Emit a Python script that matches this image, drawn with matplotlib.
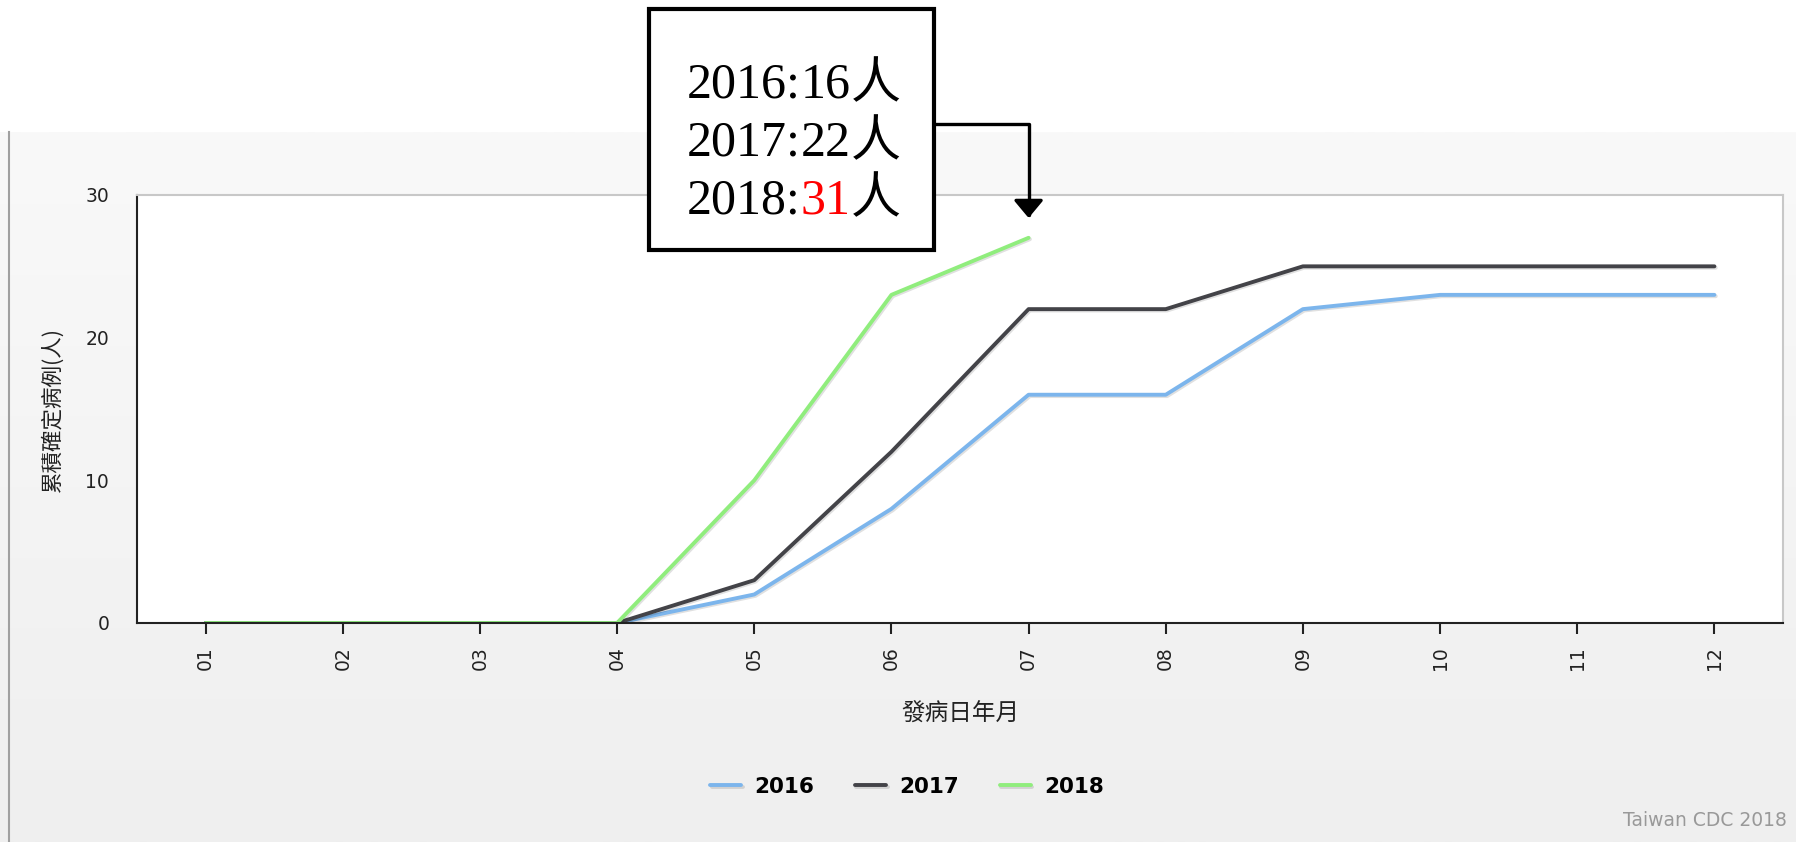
import numpy as np
import matplotlib
matplotlib.use("Agg")
import matplotlib.pyplot as plt
import matplotlib.patheffects as pe
from matplotlib.patches import Rectangle
from matplotlib.lines import Line2D
from matplotlib.colors import LinearSegmentedColormap

# data
months = ['01', '02', '03', '04', '05', '06', '07', '08', '09', '10', '11', '12']
cases_2016 = [0, 0, 0, 0, 2, 8, 16, 16, 22, 23, 23, 23]
cases_2017 = [0, 0, 0, 0, 3, 12, 22, 22, 25, 25, 25, 25]
cases_2018 = [0, 0, 0, 0, 10, 23, 27]
note_years = ['2016', '2017', '2018']
note_counts = ['16', '22', '31']

W, H = 1796, 842
CJK = ['Noto Sans CJK TC', 'DejaVu Sans']
SERIF = ['Liberation Serif', 'Noto Sans CJK TC']

fig = plt.figure(figsize=(W / 100, H / 100), dpi=100)
fig.patch.set_facecolor('white')

# grey chart panel with a soft gradient
bg = fig.add_axes([0, 0, 1, 1 - 132 / H])
grad = np.linspace(0, 1, 256).reshape(-1, 1)
bg.imshow(grad, aspect='auto', extent=[0, 1, 0, 1],
          cmap=LinearSegmentedColormap.from_list('bg', ['#f9f9f9', '#efefef']))
bg.axis('off')
fig.add_artist(Line2D([9 / W, 9 / W], [0, 1 - 132 / H], color='#a0a0a0', lw=1.5,
                      transform=fig.transFigure))

ax = fig.add_axes([137 / W, 1 - 623 / H, (1783 - 137) / W, (623 - 195) / H])
ax.set_facecolor('white')

shadow = [pe.SimpleLineShadow(offset=(1, -1), alpha=0.12), pe.Normal()]
x = np.arange(len(months))
ax.plot(x, cases_2016, color='#7cb5ec', lw=2.8, label='2016', solid_capstyle='round',
        solid_joinstyle='round', path_effects=shadow)
ax.plot(x, cases_2017, color='#434348', lw=2.8, label='2017', solid_capstyle='round',
        solid_joinstyle='round', path_effects=shadow)
ax.plot(x[:len(cases_2018)], cases_2018, color='#90ed7d', lw=2.8, label='2018',
        solid_capstyle='round', solid_joinstyle='round', path_effects=shadow)

ax.set_xlim(-0.5, len(months) - 0.5)
ax.set_ylim(0, 30)
ax.set_yticks([0, 10, 20, 30])
ax.set_xticks(x, months, rotation=90)
ax.tick_params(axis='y', length=0, pad=20, labelsize=13.5, labelcolor='#222222')
ax.tick_params(axis='x', length=8, width=1.5, pad=9, labelsize=13.5,
               color='#222222', labelcolor='#222222')
for s in ['top', 'right']:
    ax.spines[s].set_color('#c8c8c8')
    ax.spines[s].set_linewidth(1.5)
for s in ['left', 'bottom']:
    ax.spines[s].set_color('#222222')
    ax.spines[s].set_linewidth(1.5)

ax.set_xlabel('發病日年月', family=CJK, fontsize=17, color='#222222')
ax.xaxis.set_label_coords(0.5, (623 - 714) / (623 - 195))
ax.xaxis.label.set_va('center')
ax.set_ylabel('累積確定病例(人)', family=CJK, fontsize=15.5, color='#222222')
ax.yaxis.set_label_coords((52 - 137) / (1783 - 137), 0.5)
ax.yaxis.label.set_va('center')

ax.legend(loc='center', bbox_to_anchor=(907 / W, 1 - 787 / H), bbox_transform=fig.transFigure,
          ncol=3, frameon=False, prop=dict(weight='bold', size=15.5),
          handlelength=1.45, handletextpad=0.6, columnspacing=1.9)

fig.text(1787 / W, 1 - 821 / H, 'Taiwan CDC 2018', ha='right', va='center',
         color='#999999', fontsize=13.5)

# callout box
fig.add_artist(Rectangle((649 / W, 1 - 250 / H), (934 - 649) / W, (250 - 9) / H,
                         transform=fig.transFigure, fc='white', ec='black', lw=3, zorder=5))
renderer = fig.canvas.get_renderer()
baselines = [98, 156, 213]
for yr, cnt, yb in zip(note_years, note_counts, baselines):
    xp = 687
    pieces = [(yr + ':', 'black'), (cnt, 'red' if yr == '2018' else 'black'), ('人', 'black')]
    for s, c in pieces:
        t = fig.text(xp / W, 1 - yb / H, s, family=SERIF, fontsize=36, color=c,
                     ha='left', va='baseline', zorder=6)
        xp = t.get_window_extent(renderer).x1

ax.annotate('', xy=(6, H - 218), xycoords=('data', 'figure pixels'),
            xytext=(934, H - 124), textcoords='figure pixels',
            arrowprops=dict(arrowstyle='-|>,head_length=0.6,head_width=0.5', mutation_scale=18,
                            connectionstyle='angle,angleA=0,angleB=90,rad=0',
                            color='black', lw=2.4, shrinkA=0, shrinkB=0),
            annotation_clip=False)

fig.savefig('out.png', dpi=100)
